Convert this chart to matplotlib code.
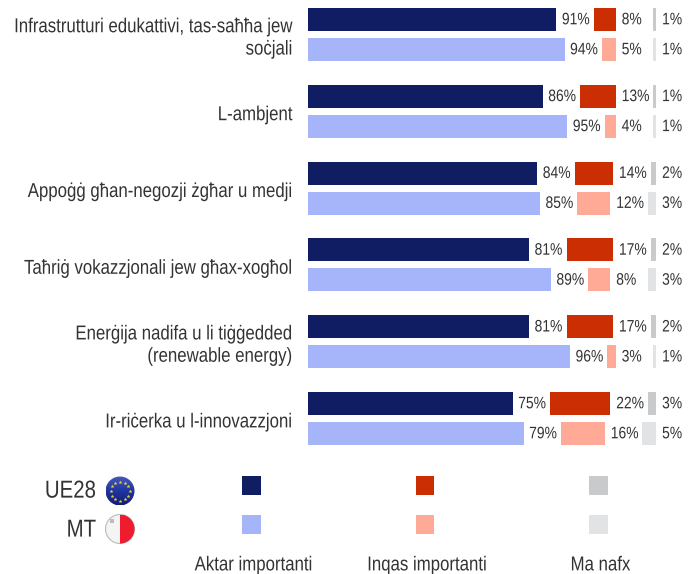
import numpy as np
import matplotlib
matplotlib.use("Agg")
import matplotlib.pyplot as plt
from matplotlib.colors import LinearSegmentedColormap
from matplotlib.patches import Circle, Rectangle
from matplotlib.patheffects import AbstractPathEffect
from matplotlib.transforms import Affine2D

categories = ["Infrastrutturi edukattivi, tas-saħħa jew\nsoċjali", "L-ambjent",
              "Appoġġ għan-negozji żgħar u medji", "Taħriġ vokazzjonali jew għax-xogħol",
              "Enerġija nadifa u li tiġġedded\n(renewable energy)", "Ir-riċerka u l-innovazzjoni"]
ue_more = [91, 86, 84, 81, 81, 75]
ue_less = [8, 13, 14, 17, 17, 22]
ue_dk = [1, 1, 2, 2, 2, 3]
mt_more = [94, 95, 85, 89, 96, 79]
mt_less = [5, 4, 12, 8, 3, 16]
mt_dk = [1, 1, 3, 3, 1, 5]
legend_labels = ["Aktar importanti", "Inqas importanti", "Ma nafx"]
geo_labels = ["UE28", "MT"]

W, H = 699, 574
FONT = "Liberation Sans"
TXT = "#333333"
C_UE = ["#101D63", "#CC2E03", "#C8CACC"]
C_MT = ["#A6B4FA", "#FFAA96", "#E2E3E4"]
PX = 2.73           # pixels per percentage point
RED_END = 113.7     # right end of the middle block at 0 "don't know"
GREY_END = 127.5    # right end of the last block


class Tall(AbstractPathEffect):
    """Stretch a text vertically about its anchor (the reference text is narrow and tall)."""
    def __init__(self, sy=1.2):
        super().__init__()
        self.sy = sy
        self.text = None

    def draw_path(self, renderer, gc, tpath, affine, rgbFace=None):
        ya = self.text.get_transform().transform(self.text.get_position())[1]
        a = affine + Affine2D().translate(0, -ya).scale(1, self.sy).translate(0, ya)
        renderer.draw_path(gc, tpath, a, rgbFace)


def tall(t, sy=1.2):
    pe = Tall(sy)
    pe.text = t
    t.set_path_effects([pe])
    return t


fig = plt.figure(figsize=(W / 100, H / 100), dpi=100)
fig.patch.set_facecolor("white")

# bar axes: x in percent, y in rows
ax_l, ax_w, ax_h = 308, 390, 460
row_px, first_px = 76.8, 34.5
ax = fig.add_axes([ax_l / W, 1 - ax_h / H, ax_w / W, ax_h / H])
ax.set_xlim(0, ax_w / PX)
ax.set_ylim((ax_h - first_px) / row_px, -first_px / row_px)
ax.axis("off")

off, bh = 15 / row_px, 23 / row_px
rows = np.arange(len(categories))


def draw(y, more, less, dk, colors):
    ax.barh(y, more, height=bh, color=colors[0], linewidth=0)
    ends = RED_END - np.array(dk)
    ax.barh(y, less, left=ends - np.array(less), height=bh, color=colors[1], linewidth=0)
    ax.barh(y, dk, left=GREY_END - np.array(dk), height=bh, color=colors[2], linewidth=0)
    for yy, m, l, d, e in zip(y, more, less, dk, ends):
        kw = dict(va="center", ha="left", fontsize=10.0, color=TXT, family=FONT)
        tall(ax.text(m + 2, yy, f"{m}%", **kw))
        tall(ax.text(e + 2.2, yy, f"{l}%", **kw))
        tall(ax.text(GREY_END + 2.2, yy, f"{d}%", **kw))


draw(rows - off, ue_more, ue_less, ue_dk, C_UE)
draw(rows + off, mt_more, mt_less, mt_dk, C_MT)

# overlay axes in pixels for labels and legend
ov = fig.add_axes([0, 0, 1, 1], zorder=3)
ov.set_xlim(0, W)
ov.set_ylim(H, 0)
ov.axis("off")
ov.patch.set_alpha(0)

for i, c in enumerate(categories):
    tall(ov.text(292.5, first_px + row_px * i + 3.5, c, ha="right", va="center",
                 fontsize=12.1, color=TXT, family=FONT, linespacing=1.3))

# legend swatches
for x, cu, cm, lab in zip([242, 415.5, 589], C_UE, C_MT, legend_labels):
    ov.add_patch(Rectangle((x, 476), 18.5, 18.5, color=cu, lw=0))
    ov.add_patch(Rectangle((x, 515), 18.5, 18.5, color=cm, lw=0))
    tall(ov.text(x + 11.5, 565, lab, ha="center", va="center", fontsize=12.1, color=TXT, family=FONT))

tall(ov.text(96, 491, geo_labels[0], ha="right", va="center", fontsize=14.7, color=TXT, family=FONT))
tall(ov.text(96, 530, geo_labels[1], ha="right", va="center", fontsize=14.7, color=TXT, family=FONT))

# flags
cx, cy_eu, cy_mt, r = 120, 491, 529, 14.5
g = np.linspace(0, 1, 64)[:, None]
eu_c = Circle((cx, cy_eu), r, transform=ov.transData)
im = ov.imshow(g, extent=[cx - r, cx + r, cy_eu + r, cy_eu - r],
               cmap=LinearSegmentedColormap.from_list("eu", ["#4658B8", "#2236A0", "#111C78"]),
               aspect="auto", zorder=2, origin="upper")
im.set_clip_path(eu_c)
ang = np.deg2rad(np.arange(0, 360, 30))
ov.scatter(cx + 9.5 * np.cos(ang), cy_eu + 9.5 * np.sin(ang), s=5, marker="*", color="#E8D030", zorder=3, linewidths=0.2)

mt_bg = Circle((cx, cy_mt), r, facecolor="#F4F4F4", edgecolor="#BBBBBB", lw=0.8, zorder=2)
ov.add_patch(mt_bg)
mt_r = Rectangle((cx, cy_mt - r), r, 2 * r, color="#EE1C2E", lw=0, zorder=2.1)
ov.add_patch(mt_r)
mt_r.set_clip_path(Circle((cx, cy_mt), r, transform=ov.transData))
ov.scatter([cx - 8], [cy_mt - 8], s=10, marker="s", color="#C8B8B8", zorder=3, linewidths=0)
ov.set_xlim(0, W)
ov.set_ylim(H, 0)

fig.savefig("out.png", dpi=100, facecolor="white")
